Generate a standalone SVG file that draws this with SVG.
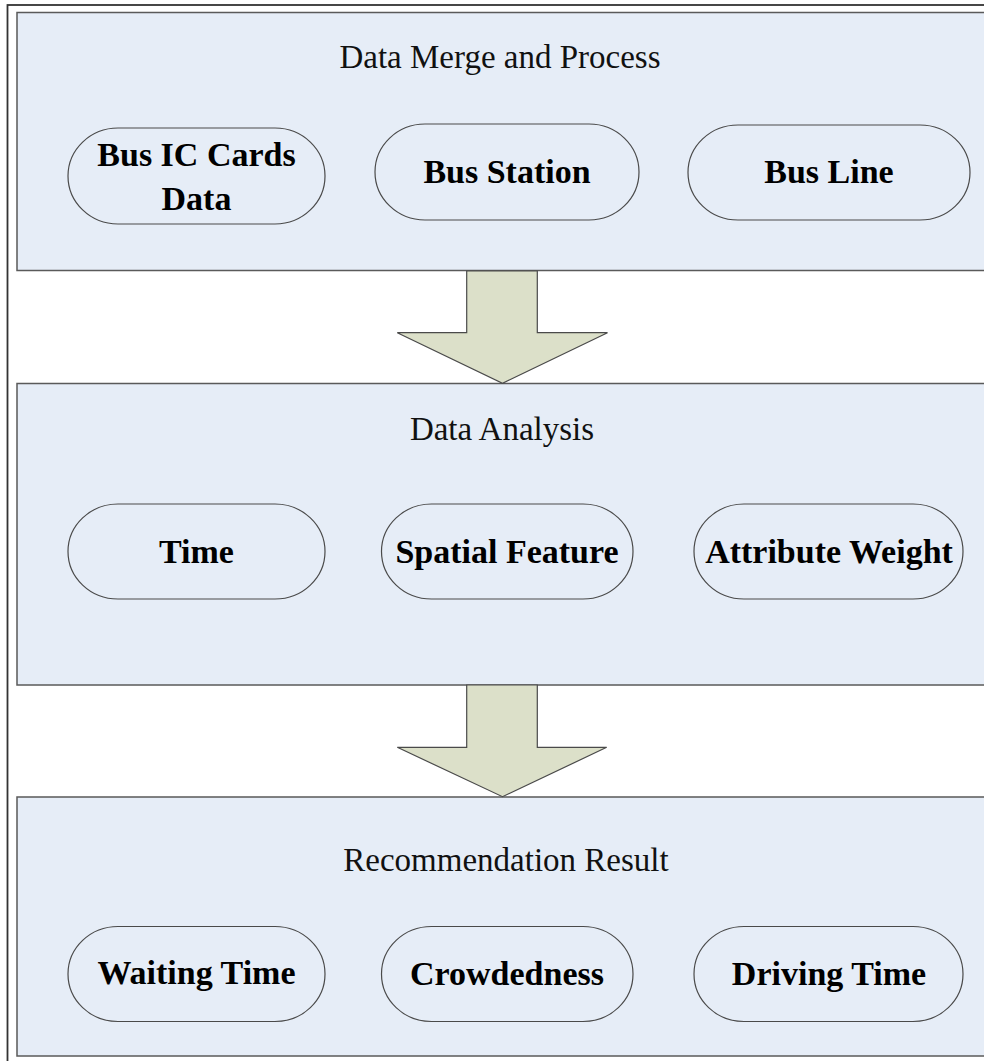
<svg xmlns="http://www.w3.org/2000/svg" width="984" height="1061" viewBox="0 0 984 1061">
  <style>
    .panel { fill: #e6edf7; stroke: #5a5a5a; stroke-width: 1.5; }
    .pill { fill: #e6edf7; stroke: #4a4a4a; stroke-width: 1.2; }
    .arrow { fill: #dce0c9; stroke: #4a4a4a; stroke-width: 1.2; stroke-linejoin: miter; }
    .title { font-family: "Liberation Serif", "Times New Roman", serif; font-size: 33px; fill: #111; text-anchor: middle; }
    .label { font-family: "Liberation Serif", "Times New Roman", serif; font-size: 34px; font-weight: bold; fill: #000; text-anchor: middle; }
  </style>
  <rect width="984" height="1061" fill="#ffffff"/>
  <!-- outer frame -->
  <rect x="7.5" y="5" width="990" height="1070" fill="none" stroke="#333333" stroke-width="1.8"/>

  <!-- stage 1 -->
  <g id="panel-merge">
    <rect class="panel" x="17" y="12.5" width="980" height="258"/>
    <text class="title" x="500" y="68">Data Merge and Process</text>
  </g>
  <g id="node-ic-cards">
    <rect class="pill" x="68" y="128" width="257" height="96" rx="50" ry="48"/>
    <text class="label" x="196.5" y="166">Bus IC Cards</text>
    <text class="label" x="196.5" y="210">Data</text>
  </g>
  <g id="node-bus-station">
    <rect class="pill" x="375" y="124" width="264" height="96" rx="50" ry="48"/>
    <text class="label" x="507" y="183">Bus Station</text>
  </g>
  <g id="node-bus-line">
    <rect class="pill" x="688" y="125" width="282" height="95" rx="50" ry="47.5"/>
    <text class="label" x="829" y="183">Bus Line</text>
  </g>

  <!-- stage 2 -->
  <g id="panel-analysis">
    <rect class="panel" x="17" y="383.5" width="980" height="301.5"/>
    <text class="title" x="502" y="440">Data Analysis</text>
  </g>
  <g id="node-time">
    <rect class="pill" x="68" y="504" width="257" height="95" rx="50" ry="47.5"/>
    <text class="label" x="196.5" y="563">Time</text>
  </g>
  <g id="node-spatial">
    <rect class="pill" x="381.5" y="504" width="251.5" height="95" rx="50" ry="47.5"/>
    <text class="label" x="507" y="563">Spatial Feature</text>
  </g>
  <g id="node-attribute">
    <rect class="pill" x="694" y="504" width="269" height="95" rx="50" ry="47.5"/>
    <text class="label" x="829" y="563">Attribute Weight</text>
  </g>

  <!-- stage 3 -->
  <g id="panel-result">
    <rect class="panel" x="17" y="797" width="980" height="259"/>
    <text class="title" x="506" y="871">Recommendation Result</text>
  </g>
  <g id="node-waiting">
    <rect class="pill" x="68" y="926.5" width="257" height="95" rx="50" ry="47.5"/>
    <text class="label" x="196.5" y="984">Waiting Time</text>
  </g>
  <g id="node-crowdedness">
    <rect class="pill" x="381.5" y="926.5" width="251.5" height="95" rx="50" ry="47.5"/>
    <text class="label" x="507" y="985">Crowdedness</text>
  </g>
  <g id="node-driving">
    <rect class="pill" x="694" y="926.5" width="269" height="95" rx="50" ry="47.5"/>
    <text class="label" x="829" y="985">Driving Time</text>
  </g>

  <!-- block arrows between stages -->
  <g id="connectors">
    <polygon class="arrow" points="466.7,271 537.3,271 537.3,332.7 607.5,332.7 502.5,383.3 397.3,332.7 466.7,332.7"/>
    <polygon class="arrow" points="466.7,685 537.3,685 537.3,747.3 606.7,747.3 502.5,796.7 397.3,747.3 466.7,747.3"/>
  </g>
</svg>
